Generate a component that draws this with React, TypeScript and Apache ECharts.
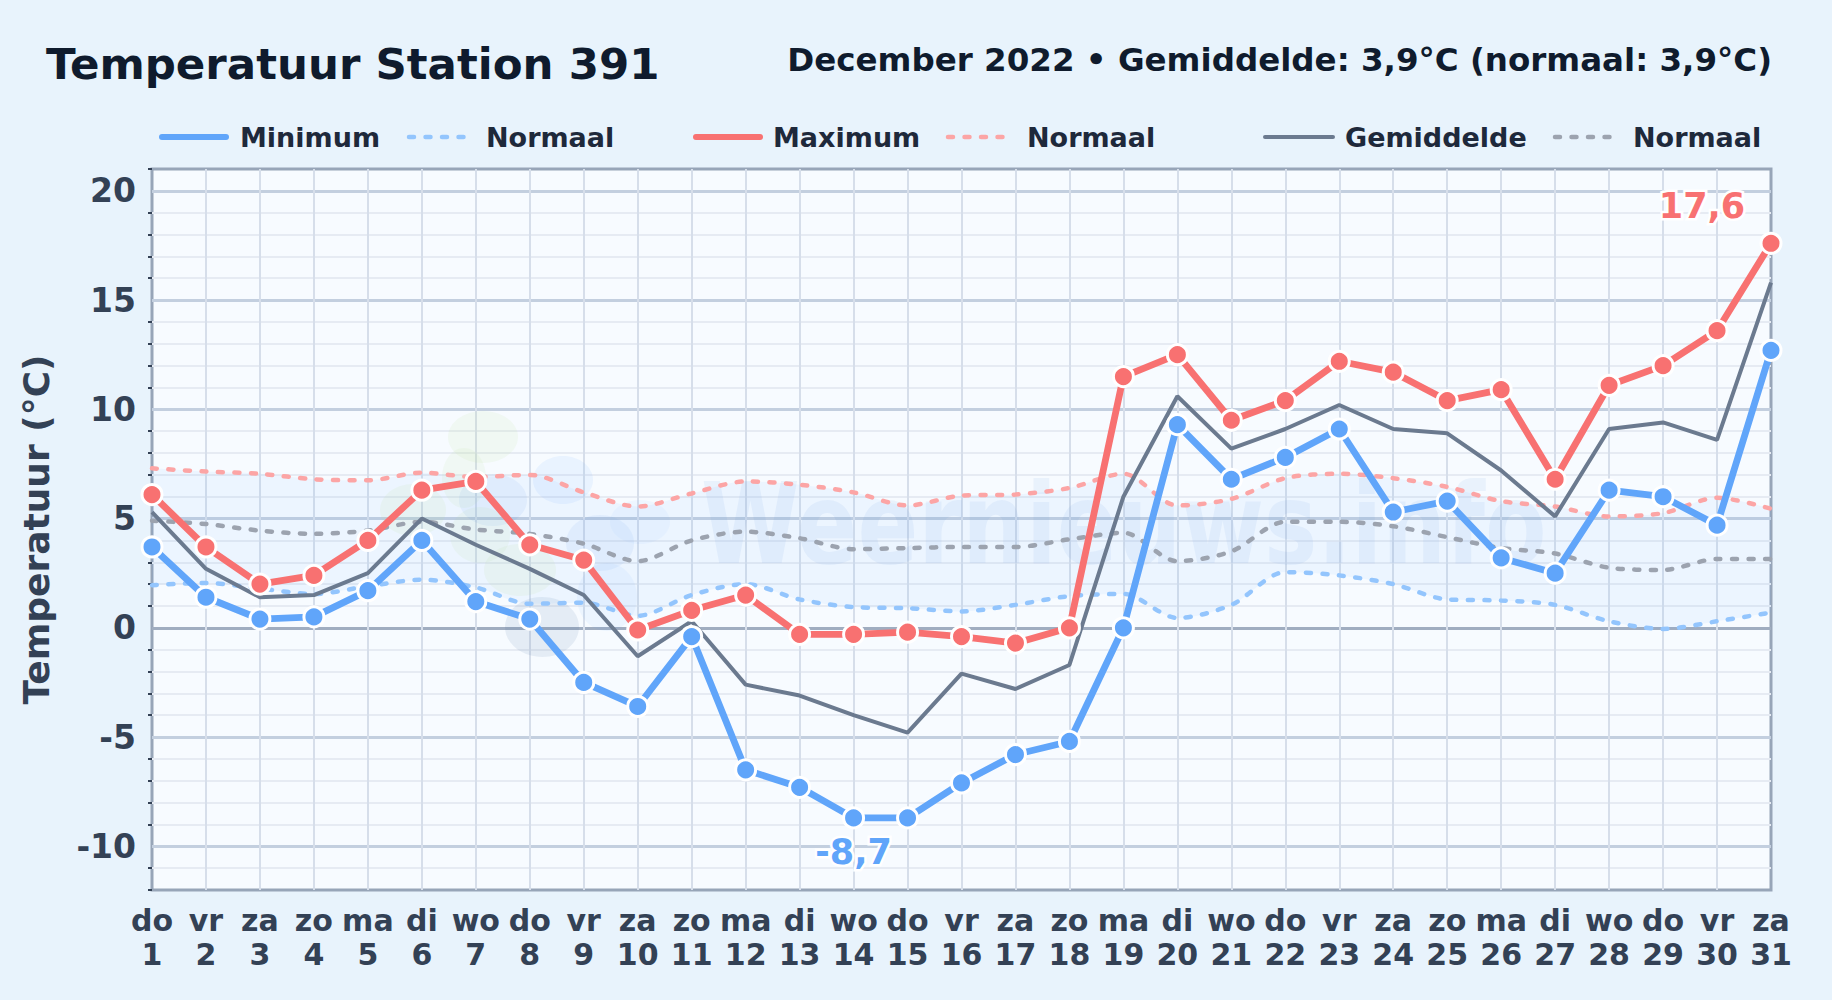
import React, { useEffect, useRef } from "react";
import * as echarts from "echarts";

const weekdays = ["do","vr","za","zo","ma","di","wo","do","vr","za","zo","ma","di","wo","do","vr","za","zo","ma","di","wo","do","vr","za","zo","ma","di","wo","do","vr","za"];
const dayNumbers = Array.from({ length: 31 }, (_, i) => String(i + 1));
const categories = weekdays.map((w, i) => `${w}\n${dayNumbers[i]}`);

const minimum = [3.7,1.4,0.4,0.5,1.7,4.0,1.2,0.4,-2.5,-3.6,-0.4,-6.5,-7.3,-8.7,-8.7,-7.1,-5.8,-5.2,0.0,9.3,6.8,7.8,9.1,5.3,5.8,3.2,2.5,6.3,6.0,4.7,12.7];
const maximum = [6.1,3.7,2.0,2.4,4.0,6.3,6.7,3.8,3.1,-0.1,0.8,1.5,-0.3,-0.3,-0.2,-0.4,-0.7,0.0,11.5,12.5,9.5,10.4,12.2,11.7,10.4,10.9,6.8,11.1,12.0,13.6,17.6];
const average = [5.3,2.7,1.4,1.5,2.5,5.0,3.8,2.7,1.5,-1.3,0.3,-2.6,-3.1,-4.0,-4.8,-2.1,-2.8,-1.7,6.0,10.6,8.2,9.1,10.2,9.1,8.9,7.2,5.1,9.1,9.4,8.6,15.8];
const normalMax = [7.3,7.15,7.05,6.8,6.75,7.1,6.9,7.0,6.2,5.55,6.15,6.7,6.55,6.2,5.6,6.05,6.1,6.4,7.05,5.6,5.9,6.85,7.05,6.85,6.45,5.8,5.55,5.1,5.25,5.95,5.45];
const normalAvg = [4.9,4.75,4.45,4.3,4.45,4.85,4.5,4.3,3.85,3.05,4.0,4.4,4.1,3.6,3.65,3.7,3.7,4.05,4.35,3.05,3.5,4.85,4.85,4.65,4.15,3.65,3.4,2.75,2.65,3.15,3.15];
const normalMin = [1.95,2.05,1.8,1.55,1.9,2.2,1.85,1.1,1.15,0.55,1.5,2.0,1.3,0.95,0.9,0.75,1.05,1.45,1.55,0.45,1.05,2.55,2.4,2.0,1.3,1.25,1.05,0.3,-0.05,0.3,0.7];

const majorTicks = [-10,-5,0,5,10,15,20];
const minorTicks = [-12,-11,-9,-8,-7,-6,-4,-3,-2,-1,1,2,3,4,6,7,8,9,11,12,13,14,16,17,18,19,21];

const FONT = "DejaVu Sans";
const BLUE = "#60a5fa", RED = "#f87171", GREY = "#6b7a8f";
const BLUE_N = "#93c5fd", RED_N = "#fca5a5", GREY_N = "#9ca3af";
const INK = "#0f1b2d", TICK = "#334155";
const DASH = [5, 11.5];

const legendItems = [
  { text: "Minimum", color: BLUE, x1: 162, x2: 226, tx: 240, width: 6, dash: null },
  { text: "Normaal", color: BLUE_N, x1: 409, x2: 465, tx: 486, width: 4.5, dash: DASH },
  { text: "Maximum", color: RED, x1: 696, x2: 760, tx: 773, width: 6, dash: null },
  { text: "Normaal", color: RED_N, x1: 948, x2: 1005, tx: 1027, width: 4.5, dash: DASH },
  { text: "Gemiddelde", color: GREY, x1: 1265, x2: 1333, tx: 1345, width: 4, dash: null },
  { text: "Normaal", color: GREY_N, x1: 1555, x2: 1619, tx: 1633, width: 4.5, dash: DASH },
];

const blobs = [
  { cx: 483, cy: 437, rx: 35, ry: 26, fill: "rgba(190,225,150,0.11)" },
  { cx: 464, cy: 478, rx: 22, ry: 30, fill: "rgba(190,225,150,0.10)" },
  { cx: 413, cy: 510, rx: 33, ry: 26, fill: "rgba(190,225,150,0.11)" },
  { cx: 480, cy: 535, rx: 30, ry: 28, fill: "rgba(190,225,150,0.10)" },
  { cx: 520, cy: 570, rx: 36, ry: 26, fill: "rgba(190,225,150,0.11)" },
  { cx: 563, cy: 480, rx: 30, ry: 24, fill: "rgba(96,165,250,0.09)" },
  { cx: 493, cy: 500, rx: 34, ry: 26, fill: "rgba(80,140,230,0.08)" },
  { cx: 600, cy: 543, rx: 34, ry: 28, fill: "rgba(80,140,230,0.08)" },
  { cx: 640, cy: 522, rx: 30, ry: 22, fill: "rgba(96,165,250,0.06)" },
  { cx: 607, cy: 597, rx: 30, ry: 34, fill: "rgba(96,165,250,0.07)" },
  { cx: 542, cy: 627, rx: 37, ry: 30, fill: "rgba(71,105,160,0.10)" },
];

function withLabel(values: number[], index: number, text: string, color: string, offset: number[]) {
  return values.map((v, i) =>
    i === index
      ? {
          value: v,
          label: {
            show: true,
            formatter: text,
            position: "inside",
            offset,
            color,
            fontFamily: FONT,
            fontWeight: "bold",
            fontSize: 35,
            textBorderColor: "#ffffff",
            textBorderWidth: 5,
          },
        }
      : v
  );
}

const markerLine = (name: string, data: any[], color: string) => ({
  name,
  type: "line",
  data,
  z: 5,
  clip: false,
  symbol: "circle",
  symbolSize: 20,
  showSymbol: true,
  itemStyle: { color, borderColor: "#ffffff", borderWidth: 3 },
  lineStyle: { color, width: 6.8 },
});

const normalLine = (name: string, data: number[], color: string) => ({
  name,
  type: "line",
  data,
  z: 3,
  smooth: 0.3,
  symbol: "none",
  lineStyle: { color, width: 4.5, type: DASH, cap: "round" },
});

export default function App() {
  const ref = useRef<HTMLDivElement>(null);
  useEffect(() => {
    document.body.style.margin = "0";
    const chart = echarts.init(ref.current!, null, { renderer: "svg" });
    chart.setOption({
      animation: false,
      backgroundColor: "#e8f3fc",
      textStyle: { fontFamily: FONT },
      title: [
        { text: "Temperatuur Station 391", left: 41, top: 37, textStyle: { fontFamily: FONT, fontWeight: "bold", fontSize: 43.5, color: INK } },
        { text: "December 2022 • Gemiddelde: 3,9°C (normaal: 3,9°C)", right: 55, top: 38, textStyle: { fontFamily: FONT, fontWeight: "bold", fontSize: 32.5, color: INK } },
      ],
      grid: { left: 152, top: 169, width: 1619, height: 721, show: true, backgroundColor: "#f7fbff", borderColor: "#97a5b8", borderWidth: 3 },
      xAxis: {
        type: "category",
        boundaryGap: false,
        data: categories,
        axisLine: { show: false },
        axisTick: { show: false },
        axisLabel: { interval: 0, color: TICK, fontFamily: FONT, fontWeight: "bold", fontSize: 30, lineHeight: 34, margin: 13 },
        splitLine: { show: true, interval: 0, showMinLine: false, showMaxLine: false, lineStyle: { color: "#d6deea", width: 2 } },
      },
      yAxis: [
        {
          type: "value",
          min: -12,
          max: 21,
          name: "Temperatuur (°C)",
          nameLocation: "middle",
          nameGap: 98,
          nameTextStyle: { color: TICK, fontFamily: FONT, fontWeight: "bold", fontSize: 36 },
          axisLine: { show: false },
          axisTick: { show: true, length: 4, customValues: minorTicks, lineStyle: { color: TICK, width: 2 } },
          axisLabel: { customValues: majorTicks, color: TICK, fontFamily: FONT, fontWeight: "bold", fontSize: 33, margin: 16 },
          splitLine: { show: true, showMinLine: false, showMaxLine: false, lineStyle: { color: "#e6ebf3", width: 2 } },
        },
        {
          type: "value",
          min: -12,
          max: 21,
          position: "left",
          axisLine: { show: false },
          axisTick: { show: false, customValues: majorTicks },
          axisLabel: { show: false, customValues: majorTicks },
          splitLine: {
            show: true,
            lineStyle: { width: 3, color: majorTicks.map((t) => (t === 0 ? "#a0adc0" : "#c3cfdf")) },
          },
        },
      ],
      graphic: [
        ...blobs.map((b) => ({ type: "ellipse", z: 1, silent: true, shape: { cx: b.cx, cy: b.cy, rx: b.rx, ry: b.ry }, style: { fill: b.fill } })),
        {
          type: "text",
          z: 1,
          silent: true,
          x: 701,
          y: 524,
          scaleX: 0.8,
          style: { text: "Weernieuws.info", fontFamily: FONT, fontWeight: "bold", fontSize: 112, fill: "rgba(96,150,220,0.085)", verticalAlign: "middle" },
        },
        ...legendItems.flatMap((it) => [
          {
            type: "line",
            shape: { x1: it.x1, y1: 137, x2: it.x2, y2: 137 },
            style: { stroke: it.color, lineWidth: it.width, lineCap: "round", lineDash: it.dash || undefined },
          },
          {
            type: "text",
            x: it.tx,
            y: 137,
            style: { text: it.text, fontFamily: FONT, fontWeight: "bold", fontSize: 27, fill: "#1e293b", verticalAlign: "middle" },
          },
        ]),
      ],
      series: [
        { name: "NormaalBasis", type: "line", data: normalMin, stack: "band", stackStrategy: "all", smooth: 0.3, symbol: "none", lineStyle: { opacity: 0 }, z: 1 },
        {
          name: "NormaalBand",
          type: "line",
          data: normalMax.map((v, i) => v - normalMin[i]),
          stack: "band",
          stackStrategy: "all",
          smooth: 0.3,
          symbol: "none",
          lineStyle: { opacity: 0 },
          areaStyle: { color: "rgba(96,165,250,0.10)" },
          z: 1,
        },
        normalLine("Normaal minimum", normalMin, BLUE_N),
        normalLine("Normaal maximum", normalMax, RED_N),
        normalLine("Normaal gemiddelde", normalAvg, GREY_N),
        { name: "Gemiddelde", type: "line", data: average, z: 4, symbol: "none", clip: false, lineStyle: { color: GREY, width: 4 } },
        markerLine("Maximum", withLabel(maximum, 30, "17,6", RED, [-69, -37]), RED),
        markerLine("Minimum", withLabel(minimum, 13, "-8,7", BLUE, [0, 34]), BLUE),
      ],
    });
    return () => chart.dispose();
  }, []);
  return <div ref={ref} style={{ position: "absolute", left: 0, top: 0, width: 1832, height: 1000 }} />;
}
